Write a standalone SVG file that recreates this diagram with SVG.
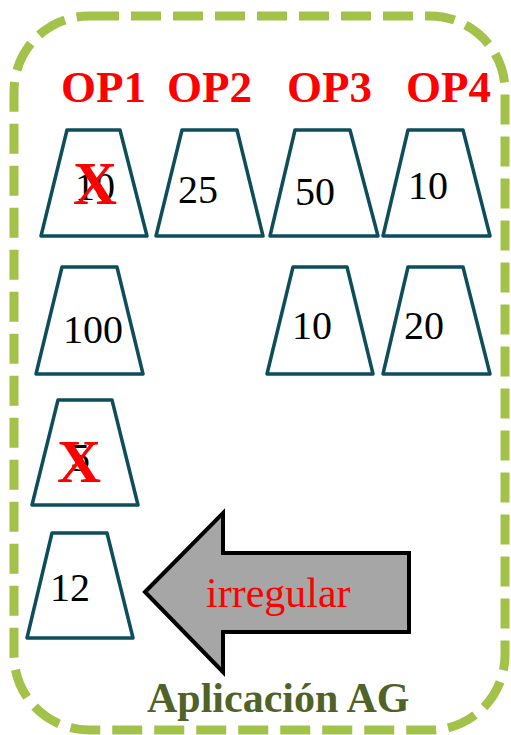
<svg xmlns="http://www.w3.org/2000/svg" width="511" height="735" viewBox="0 0 511 735">
<style>
.frame{fill:none;stroke:#A3C24A;stroke-width:9;stroke-dasharray:30 12}
.trap{fill:#fff;stroke:#0E4D5C;stroke-width:3.5;stroke-linejoin:round}
.op{font-family:"Liberation Serif",serif;font-weight:bold;font-size:45px;fill:#FF0000}
.num{font-family:"Liberation Serif",serif;font-size:40px;fill:#000}
.x{font-family:"Liberation Serif",serif;font-weight:bold;font-size:61px;fill:#FF0000}
.irr{font-family:"Liberation Serif",serif;font-size:42px;fill:#FF0000}
.title{font-family:"Liberation Serif",serif;font-weight:bold;font-size:42px;fill:#4F6228}
</style>
<g id="frame"><rect class="frame" x="14" y="16" width="491" height="714" rx="75" ry="75"/></g>
<g id="headers">
<text class="op" x="61" y="102">OP1</text>
<text class="op" x="167" y="102">OP2</text>
<text class="op" x="287" y="102">OP3</text>
<text class="op" x="406" y="102">OP4</text>
</g>
<g id="op1-1"><polygon class="trap" points="67,130 120,130 147,236 41,236"/><text class="num" x="75" y="200">10</text><text class="x" x="73" y="204">X</text></g>
<g id="op2-1"><polygon class="trap" points="182,130 237,130 263,236 156,236"/><text class="num" x="178" y="203">25</text></g>
<g id="op3-1"><polygon class="trap" points="295,130 350,130 378,236 270,236"/><text class="num" x="295" y="205">50</text></g>
<g id="op4-1"><polygon class="trap" points="408,130 463,130 490,236 383,236"/><text class="num" x="408" y="199">10</text></g>
<g id="op1-2"><polygon class="trap" points="62,267 117,267 143,374 36,374"/><text class="num" x="63" y="343">100</text></g>
<g id="op3-2"><polygon class="trap" points="293,267 347,267 373,374 267,374"/><text class="num" x="292" y="339">10</text></g>
<g id="op4-2"><polygon class="trap" points="408,267 463,267 490,374 383,374"/><text class="num" x="404" y="339">20</text></g>
<g id="op1-3"><polygon class="trap" points="58,400 112,400 138,505 32,505"/><text class="num" x="70" y="471">5</text><text class="x" x="57" y="482">X</text></g>
<g id="op1-4"><polygon class="trap" points="52,533 107,533 133,638 27,638"/><text class="num" x="50" y="601">12</text></g>
<g id="arrow">
<polygon points="145,592 223,513 223,553 409,553 409,632 223,632 223,672" fill="#A6A6A6" stroke="#000" stroke-width="4" stroke-linejoin="miter"/>
<text class="irr" x="206" y="607">irregular</text>
</g>
<g id="label"><text class="title" x="147" y="712">Aplicación AG</text></g>
</svg>
